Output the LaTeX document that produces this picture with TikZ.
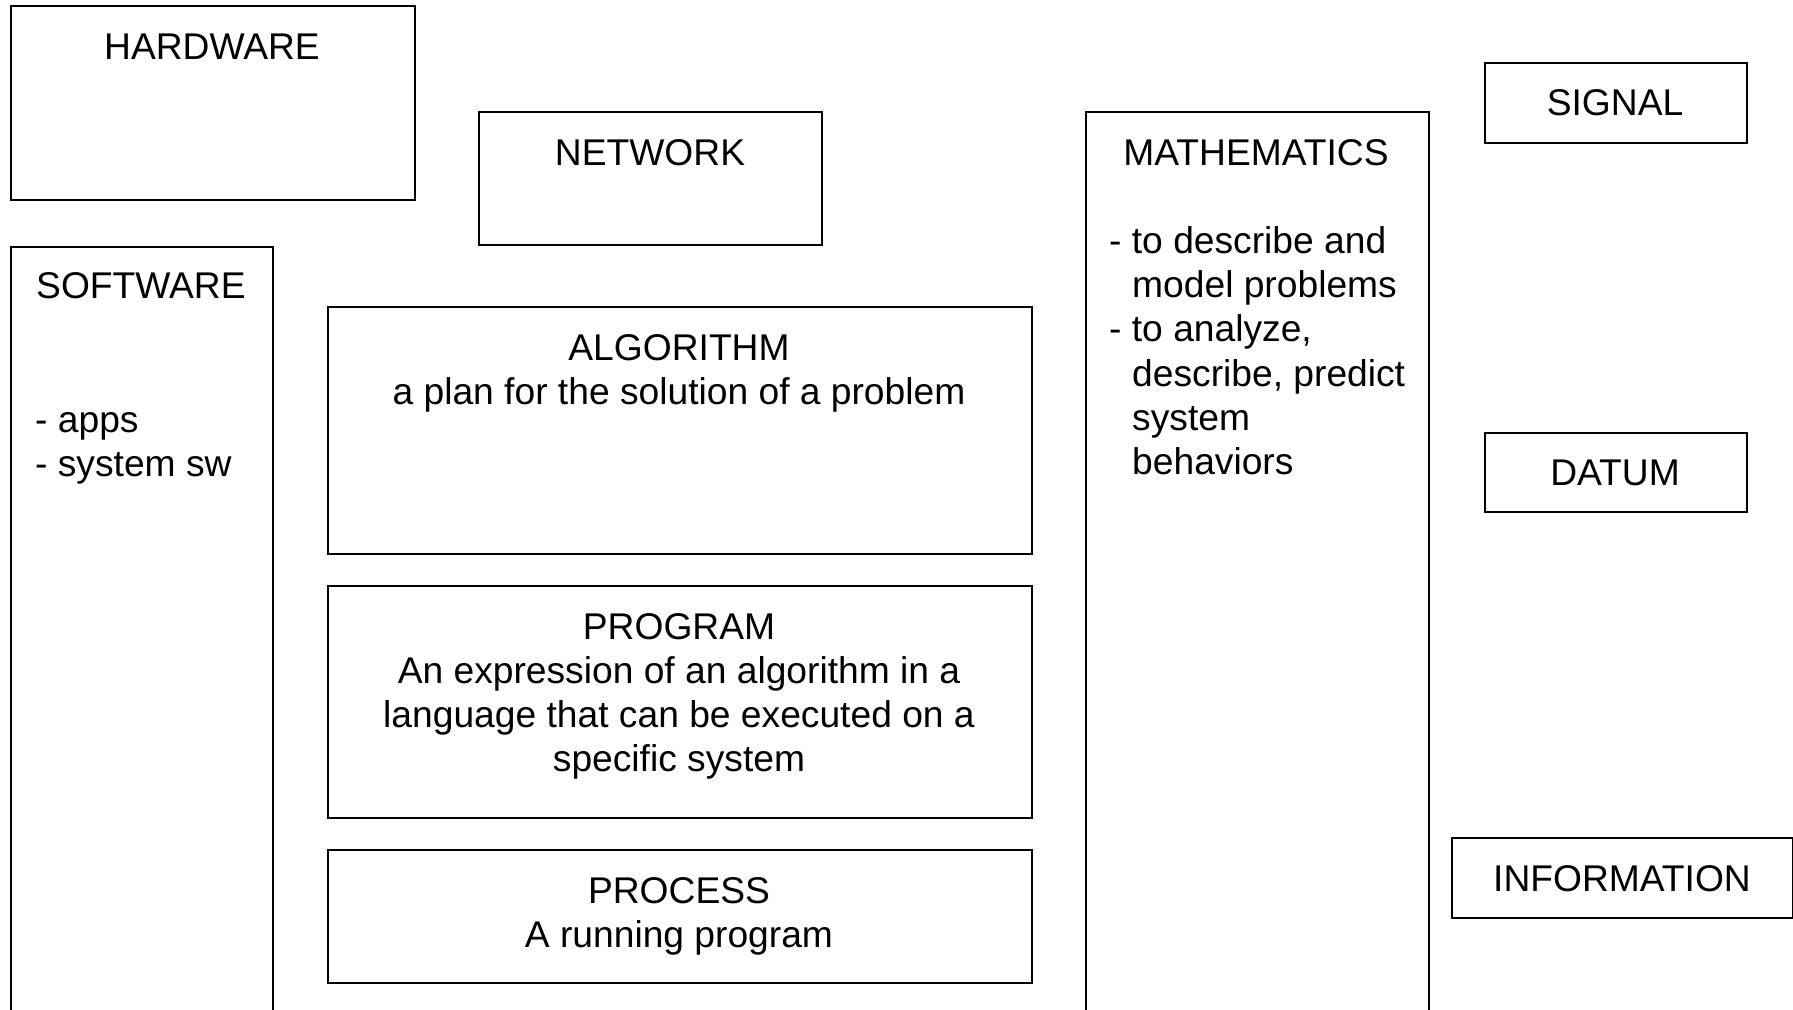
\documentclass[tikz,border=0pt]{standalone}
\usepackage{fontspec}
\setmainfont{Liberation Sans}
\begin{document}
\begin{tikzpicture}[x=1pt,y=-1pt,
  box/.style={draw=black,line width=1.8pt,rectangle,inner sep=0pt,anchor=north west},
  lbl/.style={inner sep=0pt,anchor=base,font=\fontsize{37.2}{44.2}\selectfont},
  lbll/.style={inner sep=0pt,anchor=base west,font=\fontsize{37.2}{44.2}\selectfont}]
\useasboundingbox (0,0) rectangle (1793,1009);
\clip (0,0) rectangle (1793,1009);
\fill[white] (0,0) rectangle (1793,1009);
% boxes
\node[box,minimum width=404pt,minimum height=194pt] (hw) at (10,5) {};
\node[box,minimum width=262pt,minimum height=800pt] (sw) at (10,246) {};
\node[box,minimum width=343pt,minimum height=133pt] (net) at (478,111) {};
\node[box,minimum width=704pt,minimum height=247pt] (alg) at (327,306) {};
\node[box,minimum width=704pt,minimum height=232pt] (prog) at (327,585) {};
\node[box,minimum width=704pt,minimum height=133pt] (proc) at (327,849) {};
\node[box,minimum width=343pt,minimum height=950pt] (math) at (1085,111) {};
\node[box,minimum width=262pt,minimum height=80pt] (sig) at (1484,62) {};
\node[box,minimum width=262pt,minimum height=79pt] (dat) at (1484,432) {};
\node[box,minimum width=341pt,minimum height=80pt] (inf) at (1451,837) {};
% texts
\node[lbl] (thw) at (212,59) {HARDWARE};
\node[lbl] (tnet) at (650,165) {NETWORK};
\node[lbll] (tsw) at (36,298) {SOFTWARE};
\node[lbll] (tsw1) at (35,432.5) {- apps};
\node[lbll] (tsw2) at (35,476.7) {- system sw};
\node[lbl] (talg) at (679,360) {ALGORITHM};
\node[lbl] (talg1) at (679,404.2) {a plan for the solution of a problem};
\node[lbl] (tprog) at (679,639) {PROGRAM};
\node[lbl] (tprog1) at (679,683.2) {An expression of an algorithm in a};
\node[lbl] (tprog2) at (679,727.4) {language that can be executed on a};
\node[lbl] (tprog3) at (679,771.6) {specific system};
\node[lbl] (tproc) at (679,903) {PROCESS};
\node[lbl] (tproc1) at (679,947.2) {A running program};
\node[lbl] (tmath) at (1256,165) {MATHEMATICS};
\node[lbll] (tm1) at (1109,253.5) {- to describe and};
\node[lbll] (tm2) at (1132,297.7) {model problems};
\node[lbll] (tm3) at (1109,341.9) {- to analyze,};
\node[lbll] (tm4) at (1132,386.1) {describe, predict};
\node[lbll] (tm5) at (1132,430.3) {system};
\node[lbll] (tm6) at (1132,474.5) {behaviors};
\node[lbl] (tsig) at (1615,115) {SIGNAL};
\node[lbl] (tdat) at (1615,485) {DATUM};
\node[lbl] (tinf) at (1622,891) {INFORMATION};
\end{tikzpicture}
\end{document}
